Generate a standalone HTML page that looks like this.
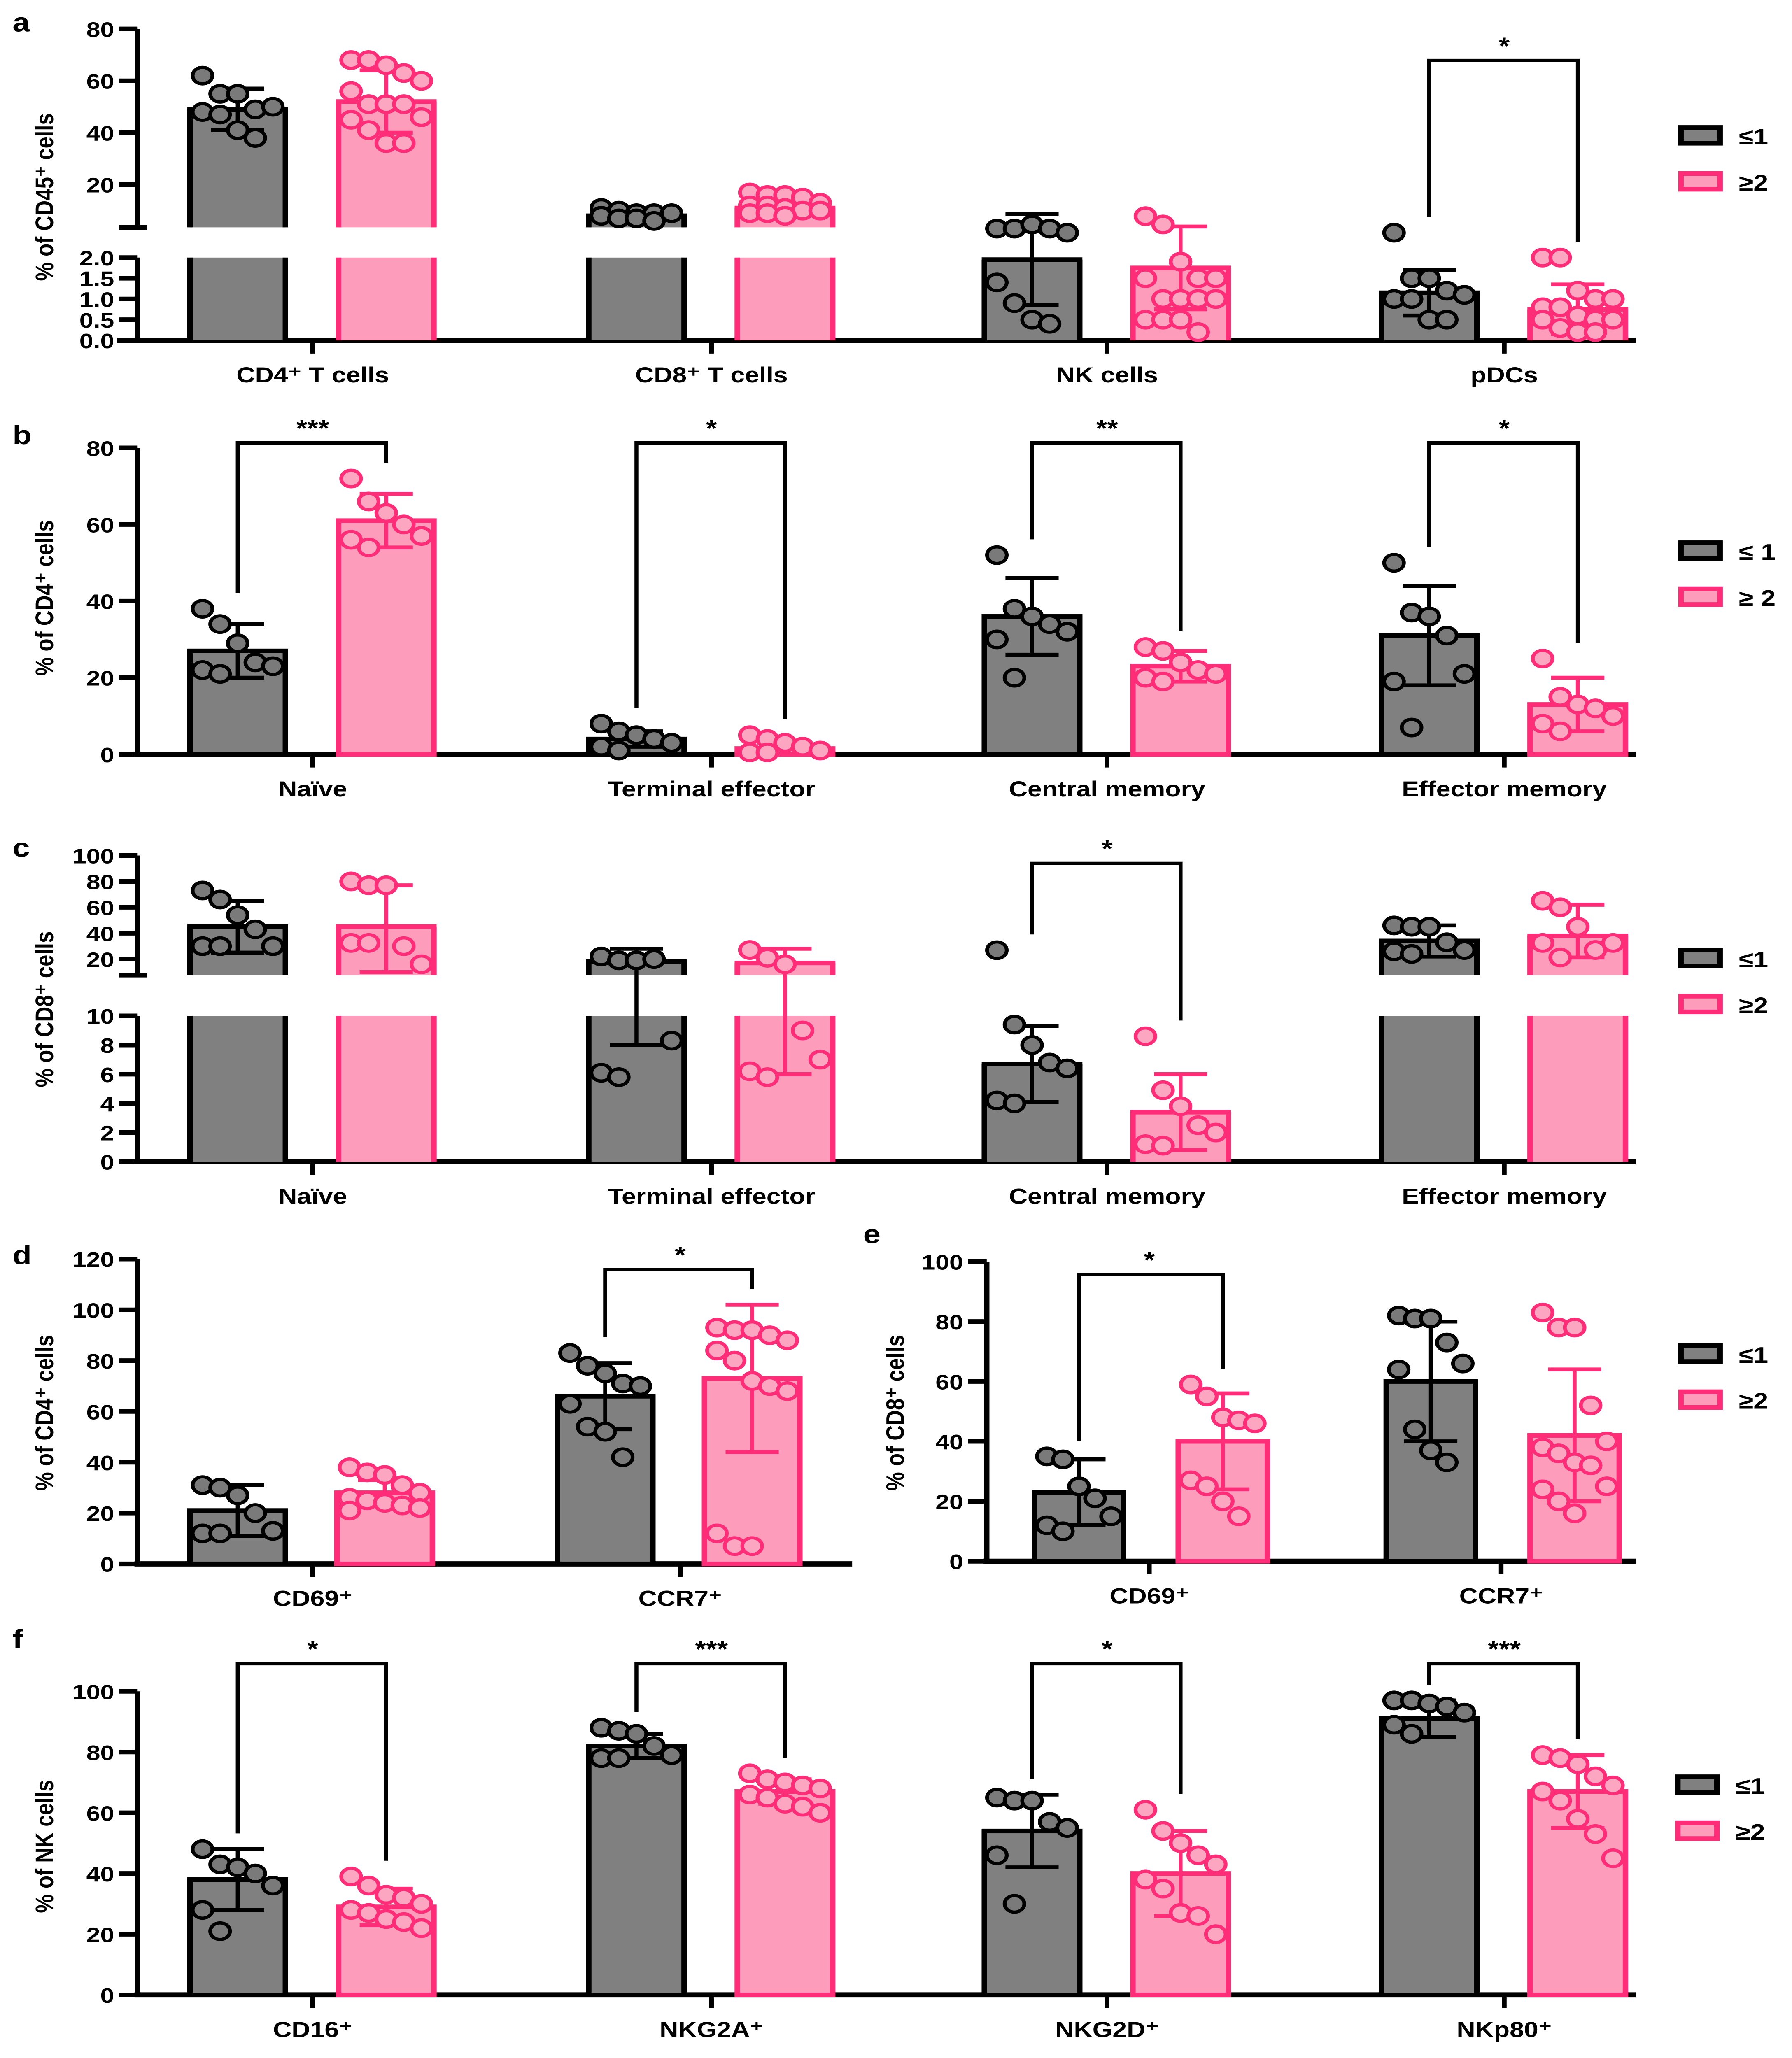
<!DOCTYPE html>
<html><head><meta charset="utf-8">
<style>
html,body{margin:0;padding:0;background:#fff;width:100vw;height:100vh;overflow:hidden;}
svg{display:block;position:absolute;left:0;top:0;width:100vw;height:100vh;font-family:"Liberation Sans",Arial,sans-serif;}
</style></head>
<body>
<svg id="fig" xmlns="http://www.w3.org/2000/svg" viewBox="0 0 1146 1566" preserveAspectRatio="none"></svg>
<script>
// ===== Panel a data =====
const aCategories = ["CD4⁺ T cells","CD8⁺ T cells","NK cells","pDCs"];
const aGreyMean = [49, 8, 1.95, 1.15];
const aGreySd = [8, 1.5, 1.1, 0.55];
const aPinkMean = [52, 11, 1.75, 0.75];
const aPinkSd = [12, 2.5, 1.0, 0.6];
const aGreyPts = [[62,55,55,49,50,48,47,41,38],[11,10,9,9,9,8,7,7,6],[2.7,2.7,2.8,2.7,2.6,1.4,0.9,0.5,0.4],[2.6,1.5,1.5,1.2,1.1,1.0,1.0,0.5,0.5]];
const aPinkPts = [[68,68,66,63,60,56,51,51,51,46,45,41,36,36],[17,16,16,15,13,12,12,11,10,10,9,9,8],[3.0,2.8,1.9,1.5,1.5,1.5,1.0,1.0,1.0,1.0,0.5,0.5,0.5,0.2],[2.0,2.0,1.2,1.0,1.0,0.8,0.8,0.6,0.5,0.5,0.5,0.3,0.2,0.2]];
const aSig = ["","","","*"];
const aUpperTicks = [20,40,60,80];
const aLowerTicks = [0,0.5,1.0,1.5,2.0];
// ===== Panel b data =====
const bCategories = ["Naïve","Terminal effector","Central memory","Effector memory"];
const bGreyMean = [27, 4, 36, 31];
const bGreySd = [7, 2, 10, 13];
const bPinkMean = [61, 1.5, 23, 13];
const bPinkSd = [7, 1.5, 4, 7];
const bGreyPts = [[38,34,29,24,23,22,21],[8,6,5,4,3,2,1],[52,38,36,34,32,30,20],[50,37,36,31,21,19,7]];
const bPinkPts = [[72,66,63,60,57,56,54],[5,4,3,2,1,0.5,0.5],[28,27,24,22,21,20,19],[25,15,13,12,10,8,6]];
const bSig = ["***","*","**","*"];
const bTicks = [0,20,40,60,80];
// ===== Panel c data =====
const cCategories = ["Naïve","Terminal effector","Central memory","Effector memory"];
const cGreyMean = [45, 18, 6.7, 34];
const cGreySd = [20, 10, 2.6, 12];
const cPinkMean = [45, 17, 3.4, 38];
const cPinkSd = [32, 11, 2.6, 24];
const cGreyPts = [[73,66,54,43,30,30,30],[22,19,19,20,8.3,6.1,5.8],[14.5,9.4,8,6.8,6.4,4.2,4.0],[46,45,45,33,27,26,24]];
const cPinkPts = [[80,77,77,30,16,15,15],[27,21,16,9,7,6.2,5.8],[8.6,4.9,3.8,2.5,2,1.2,1.1],[65,60,45,27,15,15,14]];
const cSig = ["","","*",""];
const cUpperTicks = [20,40,60,80,100];
const cLowerTicks = [0,2,4,6,8,10];
// ===== Panel d data =====
const dCategories = ["CD69⁺","CCR7⁺"];
const dGreyMean = [21, 66];
const dGreySd = [10, 13];
const dPinkMean = [28, 73];
const dPinkSd = [5, 29];
const dGreyPts = [[31,30,27,20,13,12,12],[83,78,75,71,70,63,54,52,42]];
const dPinkPts = [[38,36,35,31,28,26,25,24,23,22,21],[93,92,92,90,88,84,80,72,70,68,12,7,7]];
const dSig = ["","*"];
const dTicks = [0,20,40,60,80,100,120];
// ===== Panel e data =====
const eCategories = ["CD69⁺","CCR7⁺"];
const eGreyMean = [23, 60];
const eGreySd = [11, 20];
const ePinkMean = [40, 42];
const ePinkSd = [16, 22];
const eGreyPts = [[35,34,25,21,15,12,10],[82,81,81,73,66,64,44,37,33]];
const ePinkPts = [[59,55,48,47,46,27,25,20,15],[83,78,78,52,40,38,36,33,32,25,24,20,16]];
const eSig = ["*",""];
const eTicks = [0,20,40,60,80,100];
// ===== Panel f data =====
const fCategories = ["CD16⁺","NKG2A⁺","NKG2D⁺","NKp80⁺"];
const fGreyMean = [38, 82, 54, 91];
const fGreySd = [10, 4, 12, 6];
const fPinkMean = [29, 67, 40, 67];
const fPinkSd = [6, 4, 14, 12];
const fGreyPts = [[48,43,42,40,36,28,21],[88,87,86,82,79,78,78],[65,64,64,57,55,46,30],[97,97,96,95,93,89,86]];
const fPinkPts = [[39,36,33,32,30,28,27,25,24,22],[73,71,70,69,68,66,65,63,62,60],[61,54,50,46,43,38,35,27,26,20],[79,78,76,72,69,67,64,58,53,45]];
const fSig = ["*","***","*","***"];
const fTicks = [0,20,40,60,80,100];

const NS="http://www.w3.org/2000/svg";
const svg=document.getElementById('fig');
const GREY="#808080", PINKF="#fd9dbb", PINKS="#ff2d78";
function el(tag,attrs,parent){const e=document.createElementNS(NS,tag);for(const k in attrs)e.setAttribute(k,attrs[k]);(parent||svg).appendChild(e);return e;}
function txt(x,y,s,size,anchor,parent,extra){const t=el('text',Object.assign({x:x,y:y,'font-size':size,'font-weight':'bold','text-anchor':anchor||'middle',fill:'#000'},extra||{}),parent);t.textContent=s;return t;}

function drawPanel(P){
  const g=el('g',{});
  
  
  const L=txt(P.letterX,P.letterY,P.letter,20,'start',g);
  
  
  const yt=txt(0,0,P.ytitle,16,'middle',g,{transform:`translate(${P.ytitleX||34},${P.ytitleY}) rotate(-90)`});
  
  
  const ax=el('g',{},g);
  
  
  P.segments.forEach(s=>{
    el('line',{x1:P.ax,x2:P.ax,y1:s.top,y2:s.bot,stroke:'#000','stroke-width':3.5},ax);
    s.ticks.forEach(t=>{const y=s.fn(t);el('line',{x1:P.ax-12,x2:P.ax,y1:y,y2:y,stroke:'#000','stroke-width':3.5},ax);
      const tl=txt(P.ax-15,y+6,s.fmt?s.fmt(t):String(t),16,'end',ax);
      
      });
    if(s.endTick) el('line',{x1:P.ax-12,x2:P.ax+6,y1:s.endTick,y2:s.endTick,stroke:'#000','stroke-width':3.5},ax);
  });
  const xa=el('line',{x1:P.xStart,x2:P.xEnd,y1:P.base,y2:P.base,stroke:'#000','stroke-width':4},g);
  
  
  P.cats.forEach((c,i)=>{
    const cx=P.centers[i];
    el('line',{x1:cx,x2:cx,y1:P.base,y2:P.base+10,stroke:'#000','stroke-width':3},g);
    const cl=txt(cx,P.base+32,c,16.5,'middle',g);
    
    
    [['grey',P.gm,P.gs,P.gp,P.offG],['pink',P.pm,P.ps,P.pp,P.offP]].forEach(([kind,M,S,PT,off])=>{
      const bx=cx+off, w=P.bw;
      const fill=kind==='grey'?GREY:PINKF, str=kind==='grey'?'#000':PINKS;
      const m=M[i];
      const bg=el('g',{},g);
      
      
      if(P.barParts){P.barParts(m).forEach(([y1,y2,open])=>{
          el('rect',{x:bx-w/2,y:Math.min(y1,y2),width:w,height:Math.abs(y2-y1),fill:fill},bg);
          el('line',{x1:bx-w/2,x2:bx-w/2,y1:y1,y2:y2,stroke:str,'stroke-width':3.5},bg);
          el('line',{x1:bx+w/2,x2:bx+w/2,y1:y1,y2:y2,stroke:str,'stroke-width':3.5},bg);
          if(!open) el('line',{x1:bx-w/2-1.7,x2:bx+w/2+1.7,y1:y2,y2:y2,stroke:str,'stroke-width':3.5},bg);
        });}
      else{const y=P.yf(m);
        el('rect',{x:bx-w/2,y:y,width:w,height:P.base-y,fill:fill,stroke:str,'stroke-width':3.5},bg);}
      const yT=P.yf(m+S[i]), yB=P.yf(Math.max(0,m-S[i]));
      const eg=el('g',{},g);
      
      
      el('line',{x1:bx,x2:bx,y1:yT,y2:yB,stroke:str,'stroke-width':2.5},eg);
      el('line',{x1:bx-17,x2:bx+17,y1:yT,y2:yT,stroke:str,'stroke-width':3},eg);
      el('line',{x1:bx-17,x2:bx+17,y1:yB,y2:yB,stroke:str,'stroke-width':3},eg);
      const pts=PT[i];
      pts.forEach((v,j)=>{
        const cols=5; const col=j%cols; const span=w-16;
        const dx=-span/2+col*span/(cols-1);
        const c=el('circle',{cx:bx+dx,cy:P.yf(v),r:6.3,fill:kind==='grey'?'#7a7a7a':'#fca6c2',stroke:str,'stroke-width':2.4},g);
        
        
      });
    });
    if(P.sig[i]){
      const x1=cx+P.offG, x2=cx+P.offP;
      const top=P.sigTop;
      const maxG=Math.min(...P.gp[i].map(P.yf),P.yf(P.gm[i]+P.gs[i]))-12;
      const maxP=Math.min(...P.pp[i].map(P.yf),P.yf(P.pm[i]+P.ps[i]))-12;
      const sg=el('g',{},g);
      
      
      el('polyline',{points:`${x1},${maxG} ${x1},${top} ${x2},${top} ${x2},${maxP}`,fill:'none',stroke:'#000','stroke-width':2.5},sg);
      txt(cx,top-5,P.sig[i],18,'middle',sg);
    }
  });
  if(P.legX>0){
    const lg=el('g',{},g);
    
    
    const le1=el('rect',{x:P.legX,y:P.legY,width:25,height:12,fill:GREY,stroke:'#000','stroke-width':3.5},lg);
    
    
    txt(P.legX+37,P.legY+13,P.legLabels[0],17,'start',lg);
    const le2=el('rect',{x:P.legX,y:P.legY+35,width:25,height:12,fill:PINKF,stroke:PINKS,'stroke-width':3.5},lg);
    
    
    txt(P.legX+37,P.legY+48,P.legLabels[1],17,'start',lg);
  }
}
const C4=[200,455,708,962];
const aLow=v=>259-v*31.5, aUp=v=>22+(80-v)*1.975;
const aY=v=>v<=3.2?aLow(v):Math.min(aUp(v),173);
drawPanel({name:'panel-a',letter:'a',letterX:8,letterY:24,ytitle:'% of CD45⁺ cells',ytitleY:150,ax:88,
  segments:[{top:aUp(80),bot:173,ticks:aUpperTicks,fn:aUp,endTick:173},{top:196,bot:259,ticks:aLowerTicks,fn:aLow,fmt:t=>t.toFixed(1)}],
  base:259,xStart:75,xEnd:1046,centers:C4,cats:aCategories,bw:61,offG:-48,offP:47,yf:aY,
  barParts:m=>{const p=[[259,aLow(Math.min(m,2)),m>2]];if(m>3.2)p.push([173,aUp(m),false]);return p;},
  gm:aGreyMean,gs:aGreySd,pm:aPinkMean,ps:aPinkSd,gp:aGreyPts,pp:aPinkPts,sig:aSig,sigTop:46,legX:1075,legY:97,legLabels:['≤1','≥2']});
const bY=v=>574-v*2.915;
drawPanel({name:'panel-b',letter:'b',letterX:8,letterY:338,ytitle:'% of CD4⁺ cells',ytitleY:455,ax:88,
  segments:[{top:bY(80),bot:574,ticks:bTicks,fn:bY}],base:574,xStart:86,xEnd:1046,centers:C4,cats:bCategories,bw:61,offG:-48,offP:47,yf:bY,
  gm:bGreyMean,gs:bGreySd,pm:bPinkMean,ps:bPinkSd,gp:bGreyPts,pp:bPinkPts,sig:bSig,sigTop:337,legX:1075,legY:413,legLabels:['≤ 1','≥ 2']});
const cLow=v=>884-v*11.1, cUp=v=>651+(100-v)*0.985;
const cY=v=>v<=15?cLow(v):Math.min(cUp(v),742);
drawPanel({name:'panel-c',letter:'c',letterX:8,letterY:652,ytitle:'% of CD8⁺ cells',ytitleY:768,ax:88,
  segments:[{top:cUp(100),bot:742,ticks:cUpperTicks,fn:cUp,endTick:742},{top:773,bot:884,ticks:cLowerTicks,fn:cLow}],
  base:884,xStart:86,xEnd:1046,centers:C4,cats:cCategories,bw:61,offG:-48,offP:47,yf:cY,
  barParts:m=>{const p=[[884,cLow(Math.min(m,10)),m>10]];if(m>10)p.push([742,Math.min(cUp(m),742),false]);return p;},
  gm:cGreyMean,gs:cGreySd,pm:cPinkMean,ps:cPinkSd,gp:cGreyPts,pp:cPinkPts,sig:cSig,sigTop:657,legX:1075,legY:723,legLabels:['≤1','≥2']});
const dY=v=>1190-v*1.933;
drawPanel({name:'panel-d',letter:'d',letterX:8,letterY:962,ytitle:'% of CD4⁺ cells',ytitleY:1075,ax:88,
  segments:[{top:dY(120),bot:1190,ticks:dTicks,fn:dY}],base:1190,xStart:86,xEnd:545,centers:[200,435],cats:dCategories,bw:61,offG:-48,offP:46,yf:dY,
  gm:dGreyMean,gs:dGreySd,pm:dPinkMean,ps:dPinkSd,gp:dGreyPts,pp:dPinkPts,sig:dSig,sigTop:966,legX:-999,legY:-999,legLabels:['','']});
const eY=v=>1188-v*2.28;
drawPanel({name:'panel-e',letter:'e',letterX:552,letterY:946,ytitle:'% of CD8⁺ cells',ytitleX:578,ytitleY:1075,ax:631,
  segments:[{top:eY(100),bot:1188,ticks:eTicks,fn:eY}],base:1188,xStart:629,xEnd:1046,centers:[735,960],cats:eCategories,bw:57,offG:-45,offP:47,yf:eY,
  gm:eGreyMean,gs:eGreySd,pm:ePinkMean,ps:ePinkSd,gp:eGreyPts,pp:ePinkPts,sig:eSig,sigTop:970,legX:1075,legY:1024,legLabels:['≤1','≥2']});
const fY=v=>1518-v*2.31;
drawPanel({name:'panel-f',letter:'f',letterX:8,letterY:1254,ytitle:'% of NK cells',ytitleY:1405,ax:88,
  segments:[{top:fY(100),bot:1518,ticks:fTicks,fn:fY}],base:1518,xStart:86,xEnd:1046,centers:C4,cats:fCategories,bw:61,offG:-48,offP:47,yf:fY,
  gm:fGreyMean,gs:fGreySd,pm:fPinkMean,ps:fPinkSd,gp:fGreyPts,pp:fPinkPts,sig:fSig,sigTop:1266,legX:1073,legY:1352,legLabels:['≤1','≥2']});
</script>
</body></html>
